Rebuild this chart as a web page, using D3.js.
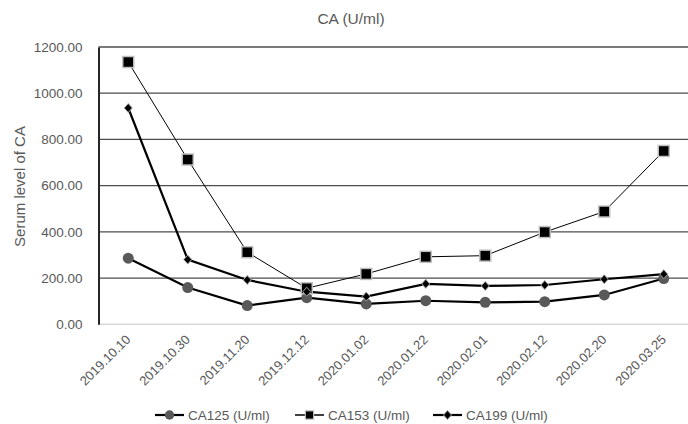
<!DOCTYPE html>
<html>
<head>
<meta charset="utf-8">
<script src="https://cdn.jsdelivr.net/npm/d3@7"></script>
<style>
  body { margin: 0; background: #fff; }
  svg { font-family: Arial, "Liberation Sans", sans-serif; }
</style>
</head>
<body>
<script>
// Chart data
const dates = ['2019.10.10', '2019.10.30', '2019.11.20', '2019.12.12', '2020.01.02',
  '2020.01.22', '2020.02.01', '2020.02.12', '2020.02.20', '2020.03.25'];
const ca125 = [286, 159, 81, 115, 88, 102, 95, 98, 127, 198];
const ca153 = [1135, 713, 312, 156, 218, 292, 297, 399, 488, 750];
const ca199 = [936, 280, 192, 141, 120, 175, 166, 170, 195, 217];
const yTicks = [0, 200, 400, 600, 800, 1000, 1200];

const width = 688;
const height = 424;
const margin = { top: 47, left: 98.5, bottom: 100 };

const svg = d3.select('body')
  .append('svg')
  .attr('width', width)
  .attr('height', height);

// Scales
const xScale = d3.scaleBand()
  .domain(dates)
  .range([margin.left, 693.5]);

const yScale = d3.scaleLinear()
  .domain([0, 1200])
  .range([324.3, margin.top]);

// Gridlines
svg.append('g')
  .selectAll('line')
  .data(yTicks.filter(d => d > 0))
  .enter()
  .append('line')
  .attr('x1', margin.left)
  .attr('x2', width)
  .attr('y1', d => yScale(d))
  .attr('y2', d => yScale(d))
  .attr('stroke', '#4d4d4d')
  .attr('stroke-width', 1.3);

// Zero baseline
svg.append('line')
  .attr('x1', margin.left)
  .attr('x2', width)
  .attr('y1', yScale(0))
  .attr('y2', yScale(0))
  .attr('stroke', '#d9d9d9')
  .attr('stroke-width', 1.5);

// Y axis
const yAxis = svg.append('g')
  .attr('transform', `translate(${margin.left}, 0)`)
  .call(d3.axisLeft(yScale).tickValues(yTicks).tickFormat(d3.format('.2f')).tickSize(0).tickPadding(16));
yAxis.select('.domain').attr('stroke', '#262626').attr('stroke-width', 2);
yAxis.selectAll('text')
  .attr('font-size', '13.5px')
  .attr('fill', '#595959')
  .attr('font-family', 'Arial, "Liberation Sans", sans-serif');

// X axis labels
const xAxis = svg.append('g')
  .attr('transform', `translate(0, ${yScale(0)})`)
  .call(d3.axisBottom(xScale).tickSize(0).tickPadding(0));
xAxis.select('.domain').remove();
xAxis.selectAll('text')
  .attr('font-size', '13px')
  .attr('fill', '#595959')
  .attr('font-family', 'Arial, "Liberation Sans", sans-serif')
  .attr('text-anchor', 'end')
  .attr('dy', '0')
  .attr('transform', 'translate(3, 16) rotate(-45)');

// Title
svg.append('text')
  .text('CA (U/ml)')
  .attr('x', 351)
  .attr('y', 24)
  .attr('text-anchor', 'middle')
  .attr('font-size', '15.5px')
  .attr('fill', '#595959');

// Y axis title
svg.append('text')
  .text('Serum level of CA')
  .attr('transform', `translate(25, 186.5) rotate(-90)`)
  .attr('text-anchor', 'middle')
  .attr('font-size', '15px')
  .attr('fill', '#595959');

const cx = d => xScale(d) + xScale.bandwidth() / 2;

const series = [
  { name: 'CA125 (U/ml)', values: ca125, width: 2.2, marker: 'circle' },
  { name: 'CA153 (U/ml)', values: ca153, width: 1, marker: 'square' },
  { name: 'CA199 (U/ml)', values: ca199, width: 2.2, marker: 'diamond' }
];

function drawMarker(g, type) {
  if (type === 'circle') {
    g.append('circle').attr('r', 5.5).attr('fill', '#595959');
  } else if (type === 'square') {
    g.append('rect').attr('x', -5.5).attr('y', -5.5).attr('width', 11).attr('height', 11)
      .attr('fill', '#000').attr('stroke', '#bfbfbf').attr('stroke-width', 1.5);
  } else {
    g.append('path').attr('d', 'M0,-4.5L4,0L0,4.5L-4,0Z')
      .attr('fill', '#000').attr('stroke', '#a6a6a6').attr('stroke-width', 1);
  }
}

const line = d3.line()
  .x((d, i) => cx(dates[i]))
  .y(d => yScale(d));

series.forEach(s => {
  svg.append('path')
    .datum(s.values)
    .attr('d', line)
    .attr('fill', 'none')
    .attr('stroke', '#000')
    .attr('stroke-width', s.width);
});

series.forEach(s => {
  s.values.forEach((v, i) => {
    const g = svg.append('g').attr('transform', `translate(${cx(dates[i])}, ${yScale(v)})`);
    drawMarker(g, s.marker);
  });
});

// Legend
const legendX = [155, 295, 433];
series.forEach((s, i) => {
  const g = svg.append('g').attr('transform', `translate(${legendX[i]}, 415)`);
  g.append('line').attr('x1', 0).attr('x2', 29).attr('stroke', '#000').attr('stroke-width', s.width === 1 ? 1.5 : 2.2);
  const m = g.append('g').attr('transform', 'translate(14.5, 0)');
  drawMarker(m, s.marker);
  if (s.marker === 'square') m.attr('transform', 'translate(14.5, 0) scale(0.75)');
  if (s.marker === 'circle') m.attr('transform', 'translate(14.5, 0) scale(0.85)');
  g.append('text')
    .text(s.name)
    .attr('x', 33)
    .attr('y', 5)
    .attr('font-size', '13.5px')
    .attr('fill', '#595959');
});
</script>
</body>
</html>
